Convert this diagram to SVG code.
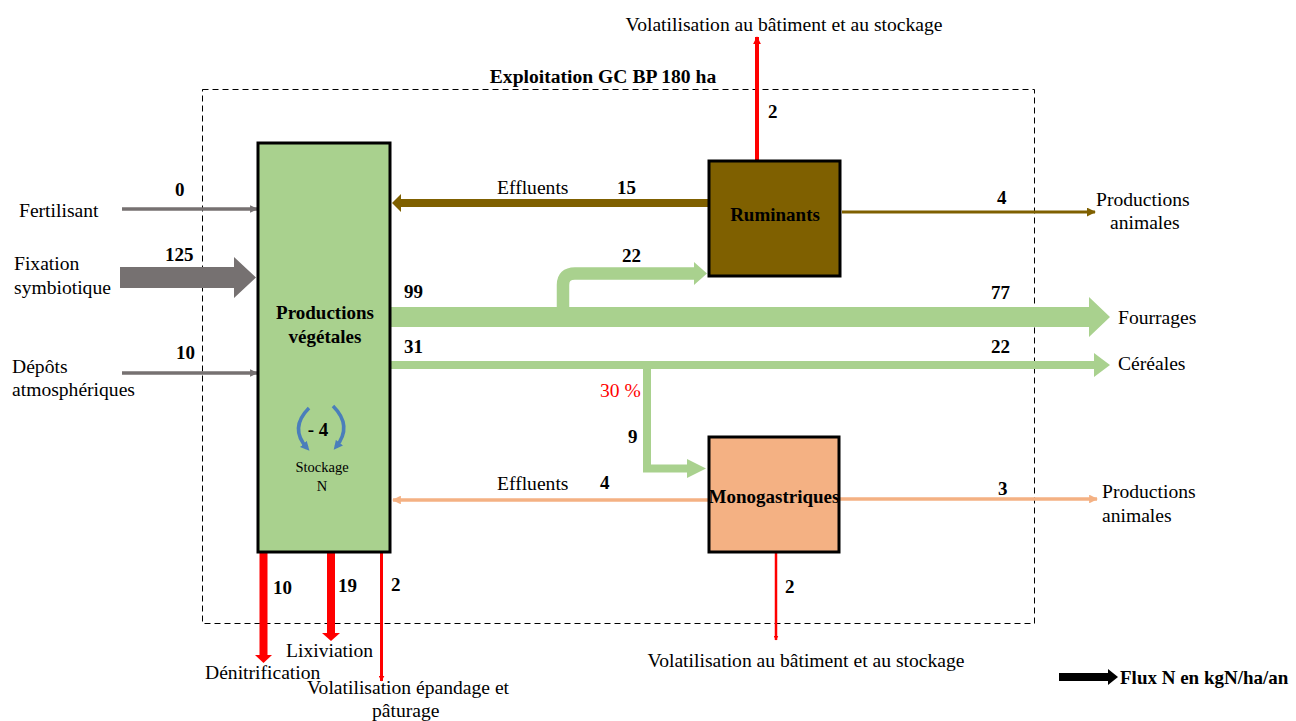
<svg xmlns="http://www.w3.org/2000/svg" width="1296" height="721" viewBox="0 0 1296 721">
  <defs>
    <style>
      text { font-family: "Liberation Serif", "Times New Roman", serif; fill: #000; }
      .lbl { font-size: 19.6px; }
      .num { font-size: 19px; font-weight: bold; }
      .box { stroke: #000; stroke-width: 3; }
      .ttl { font-size: 19.6px; font-weight: bold; text-anchor: middle; }
      .mid { text-anchor: middle; }
    </style>
    <marker id="ahGray" viewBox="0 0 10 10" refX="9" refY="5" markerWidth="2.2" markerHeight="2.2" orient="auto" markerUnits="strokeWidth">
      <path d="M0,0 L10,5 L0,10 Z" fill="#767171"/>
    </marker>
    <marker id="ahBrown" viewBox="0 0 10 10" refX="9" refY="5" markerWidth="3" markerHeight="3" orient="auto" markerUnits="strokeWidth">
      <path d="M0,0 L10,5 L0,10 Z" fill="#7f6000"/>
    </marker>
    <marker id="ahSalmon" viewBox="0 0 10 10" refX="9" refY="5" markerWidth="2.5" markerHeight="2.5" orient="auto" markerUnits="strokeWidth">
      <path d="M0,0 L10,5 L0,10 Z" fill="#f4b183"/>
    </marker>
    <marker id="ahRed" viewBox="0 0 10 10" refX="9" refY="5" markerWidth="2" markerHeight="2" orient="auto" markerUnits="strokeWidth">
      <path d="M0,0 L10,5 L0,10 Z" fill="#ff0000"/>
    </marker>
    <marker id="ahBlue" viewBox="0 0 10 10" refX="6" refY="5" markerWidth="2.6" markerHeight="2.6" orient="auto" markerUnits="strokeWidth">
      <path d="M0,0 L10,5 L0,10 Z" fill="#4a7ebb"/>
    </marker>
  </defs>

  <!-- farm boundary -->
  <g id="exploitation">
    <rect x="202.5" y="89.5" width="832" height="534" fill="none" stroke="#000" stroke-width="1" stroke-dasharray="6,4"/>
    <text class="ttl" x="603" y="83">Exploitation GC BP 180 ha</text>
  </g>

  <!-- flows -->
  <g id="connectors">
    <!-- inputs -->
    <line x1="122" y1="209" x2="257" y2="209" stroke="#767171" stroke-width="3.5" marker-end="url(#ahGray)"/>
    <polygon points="120,267 234,267 234,257 256,277.5 234,298 234,288 120,288" fill="#767171"/>
    <line x1="122" y1="373" x2="257" y2="373" stroke="#767171" stroke-width="3.5" marker-end="url(#ahGray)"/>

    <!-- fodder flow + branch to ruminants -->
    <polygon points="390,307 1089,307 1089,297 1110,317 1089,337 1089,327 390,327" fill="#a9d18e"/>
    <path d="M563,310 V285 Q563,273.5 575,273.5 H696" fill="none" stroke="#a9d18e" stroke-width="12.5"/>
    <polygon points="694,262 707,273.5 694,285" fill="#a9d18e"/>

    <!-- cereals flow + branch to monogastrics -->
    <polygon points="390,361 1094,361 1094,353 1110,365 1094,377 1094,369 390,369" fill="#a9d18e"/>
    <path d="M647,368 V468.5 H690" fill="none" stroke="#a9d18e" stroke-width="8"/>
    <polygon points="687,459 706,468.5 687,478" fill="#a9d18e"/>

    <!-- ruminants -->
    <line x1="709" y1="203" x2="400" y2="203" stroke="#7f6000" stroke-width="8"/>
    <polygon points="401,194 392,203 401,212" fill="#7f6000"/>
    <line x1="842" y1="212" x2="1095" y2="212" stroke="#7f6000" stroke-width="3" marker-end="url(#ahBrown)"/>
    <line x1="757" y1="161" x2="757" y2="37" stroke="#ff0000" stroke-width="4" marker-end="url(#ahRed)"/>

    <!-- monogastrics -->
    <line x1="709" y1="500" x2="393" y2="500" stroke="#f4b183" stroke-width="3.5" marker-end="url(#ahSalmon)"/>
    <line x1="840" y1="499" x2="1097" y2="499" stroke="#f4b183" stroke-width="3.5" marker-end="url(#ahSalmon)"/>
    <line x1="776" y1="552" x2="776" y2="640" stroke="#ff0000" stroke-width="2.5" marker-end="url(#ahRed)"/>

    <!-- crop losses -->
    <rect x="259.5" y="552" width="8" height="104" fill="#ff0000"/>
    <polygon points="255,655 272,655 263.5,663" fill="#ff0000"/>
    <rect x="327" y="552" width="8" height="82" fill="#ff0000"/>
    <polygon points="322,633 340,633 331,641" fill="#ff0000"/>
    <line x1="381.5" y1="552" x2="381.5" y2="681" stroke="#ff0000" stroke-width="3" marker-end="url(#ahRed)"/>
  </g>

  <!-- crop production -->
  <g id="productions-vegetales">
    <rect class="box" x="258" y="143" width="132" height="409" fill="#a9d18e"/>
    <text class="num mid" x="325" y="319" font-size="19.6">Productions</text>
    <text class="num mid" x="325" y="343" font-size="19.6">végétales</text>
    <path d="M309,408 Q289,428 307,448" fill="none" stroke="#4a7ebb" stroke-width="3.5" marker-end="url(#ahBlue)"/>
    <path d="M333,406 Q353,426 336,447" fill="none" stroke="#4a7ebb" stroke-width="3.5" marker-end="url(#ahBlue)"/>
    <text class="num mid" x="318" y="436">- 4</text>
    <text class="mid" x="322" y="472" font-size="14.5">Stockage</text>
    <text class="mid" x="322" y="491" font-size="14.5">N</text>
  </g>

  <g id="ruminants">
    <rect class="box" x="709" y="161" width="131" height="115" fill="#7f6000"/>
    <text class="num mid" x="775" y="221">Ruminants</text>
  </g>

  <g id="monogastriques">
    <rect class="box" x="709" y="437" width="130" height="115" fill="#f4b183"/>
    <text class="num mid" x="774" y="503" font-size="18.3">Monogastriques</text>
  </g>

  <!-- labels -->
  <g id="labels">
    <text class="lbl" x="19" y="217">Fertilisant</text>
    <text class="num" x="175" y="196">0</text>
    <text class="lbl" x="14" y="270">Fixation</text>
    <text class="lbl" x="14" y="294">symbiotique</text>
    <text class="num" x="165" y="261">125</text>
    <text class="lbl" x="12" y="373">Dépôts</text>
    <text class="lbl" x="12" y="396">atmosphériques</text>
    <text class="num" x="176" y="359">10</text>

    <text class="lbl mid" x="784" y="31">Volatilisation au bâtiment et au stockage</text>
    <text class="num" x="768" y="118">2</text>
    <text class="lbl" x="497" y="194">Effluents</text>
    <text class="num" x="617" y="194">15</text>
    <text class="num" x="997" y="204">4</text>
    <text class="lbl" x="1096" y="206">Productions</text>
    <text class="lbl" x="1110" y="229">animales</text>

    <text class="num" x="622" y="262">22</text>
    <text class="num" x="404" y="298">99</text>
    <text class="num" x="991" y="299">77</text>
    <text class="lbl" x="1118" y="324">Fourrages</text>
    <text class="num" x="404" y="353">31</text>
    <text class="num" x="991" y="353">22</text>
    <text class="lbl" x="1118" y="370">Céréales</text>
    <text class="lbl" x="600" y="397" style="fill:#ff0000">30 %</text>
    <text class="num" x="628" y="443">9</text>

    <text class="lbl" x="497" y="490">Effluents</text>
    <text class="num" x="600" y="489">4</text>
    <text class="num" x="998" y="495">3</text>
    <text class="lbl" x="1102" y="498">Productions</text>
    <text class="lbl" x="1102" y="522">animales</text>
    <text class="num" x="785" y="593">2</text>
    <text class="lbl mid" x="806" y="667">Volatilisation au bâtiment et au stockage</text>

    <text class="num" x="273" y="594">10</text>
    <text class="num" x="338" y="592">19</text>
    <text class="num" x="391" y="591">2</text>
    <text class="lbl" x="286" y="657">Lixiviation</text>
    <text class="lbl" x="205" y="679">Dénitrification</text>
    <text class="lbl" x="307" y="694">Volatilisation épandage et</text>
    <text class="lbl" x="372" y="717">pâturage</text>
  </g>

  <!-- legend -->
  <g id="legend">
    <polygon points="1059,673 1108,673 1108,669 1118,677 1108,685 1108,681 1059,681" fill="#000"/>
    <text class="num" x="1120" y="684" font-size="19.6">Flux N en kgN/ha/an</text>
  </g>
</svg>
